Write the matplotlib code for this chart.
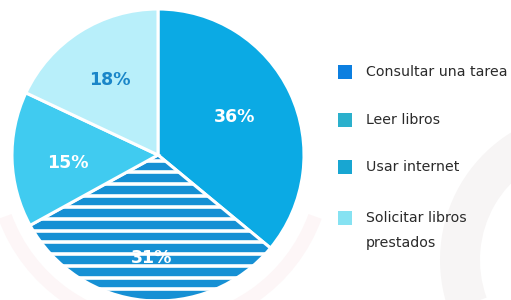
import matplotlib
matplotlib.use('Agg')
import matplotlib.pyplot as plt
from matplotlib.patches import Rectangle, Wedge
import numpy as np

# ── Data ──────────────────────────────────────────────────────────────────────
categories = ['Consultar una tarea', 'Leer libros', 'Usar internet',
              'Solicitar libros\nprestados']
values     = [36, 31, 15, 18]
labels     = ['36%', '31%', '15%', '18%']

# ── Styles ────────────────────────────────────────────────────────────────────
SLICE_COLORS  = ['#0BAAE4', '#1690D4', '#40CBF0', '#B8EFFA']
LABEL_COLORS  = ['white', 'white', 'white', '#1A86C8']
LEGEND_COLORS = ['#0C7FE0', '#2BB0CC', '#18A6D2', '#86E2F2']
TEXT_COLOR    = '#2A2A2A'
W, H = 511, 300

fig = plt.figure(figsize=(W / 100, H / 100), dpi=100)
fig.patch.set_facecolor('white')

# faint watermark arcs in the background
bg = fig.add_axes([0, 0, 1, 1])
bg.set_xlim(0, W)
bg.set_ylim(0, H)
bg.axis('off')
bg.add_patch(Wedge((590, 40), 150, 100, 200, width=40, color='#F7F5F5', lw=0))
bg.add_patch(Wedge((160, 140), 172, 200, 340, width=14, color='#FDF6F7', lw=0))

# ── Pie ───────────────────────────────────────────────────────────────────────
cx, cy, r = 158, H - 155, 146
ax = fig.add_axes([(cx - r) / W, (cy - r) / H, 2 * r / W, 2 * r / H])

wedges, _ = ax.pie(values, colors=SLICE_COLORS, startangle=90,
                   counterclock=False, radius=1,
                   wedgeprops=dict(edgecolor='white', linewidth=2.2))
ax.set_xlim(-1, 1)
ax.set_ylim(-1, 1)
ax.set_aspect('equal')
ax.axis('off')

# horizontal white stripes on "Leer libros"
step = 11.7 / r
for y in np.arange(-1.0, 0.05, step):
    ln, = ax.plot([-1, 1], [y, y], color='white', linewidth=2.6,
                  solid_capstyle='butt', zorder=3)
    ln.set_clip_path(wedges[1])

# percentage labels
label_pos = [(235, 117), (152, 258), (68, 163), (110, 80)]
for (px, py), txt, col in zip(label_pos, labels, LABEL_COLORS):
    ax.text((px - cx) / r, (H - py - cy) / r, txt, color=col,
            fontsize=12.5, fontweight='bold', ha='center', va='center',
            zorder=5)

# ── Legend ────────────────────────────────────────────────────────────────────
rows_y = [72, 120, 167, 218]
for ypix, name, col in zip(rows_y, categories, LEGEND_COLORS):
    bg.add_patch(Rectangle((338, H - ypix - 7), 14, 14, color=col, lw=0,
                           zorder=4))
    first, *rest = name.split('\n')
    bg.text(366, H - ypix, first, fontsize=10.2, color=TEXT_COLOR,
            va='center', ha='left', zorder=4)
    for k, extra in enumerate(rest):
        bg.text(366, H - ypix - 25 * (k + 1), extra, fontsize=10.2,
                color=TEXT_COLOR, va='center', ha='left', zorder=4)

fig.savefig('out.png', dpi=100, facecolor='white')
plt.close(fig)
